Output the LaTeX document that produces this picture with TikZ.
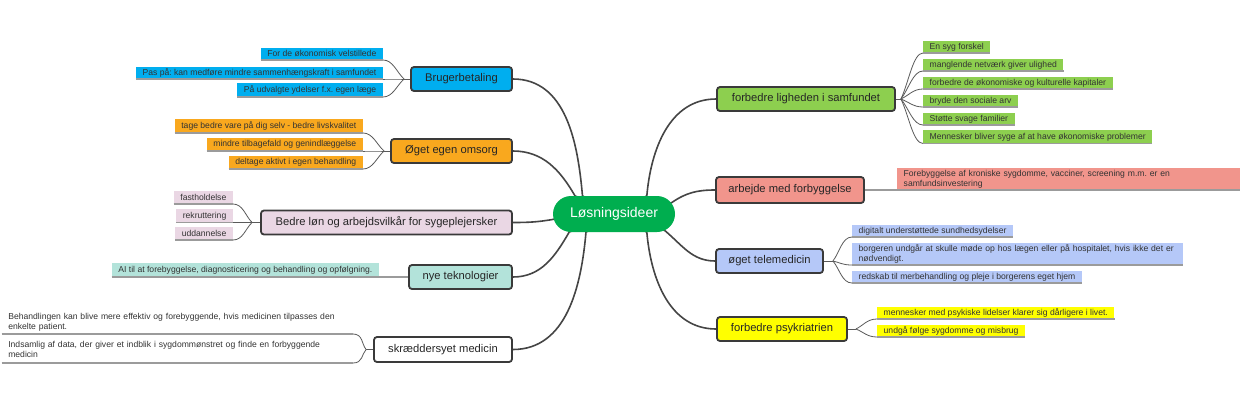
\documentclass[tikz,border=0pt]{standalone}
\usepackage{fontspec}
\setmainfont{Liberation Sans}
\frenchspacing
\usetikzlibrary{backgrounds,calc,shapes.misc}
\definecolor{cgreen}{HTML}{00AE4F}
\definecolor{cblue}{HTML}{00AEEF}
\definecolor{corange}{HTML}{F9A81E}
\definecolor{cpink}{HTML}{EAD7E4}
\definecolor{cteal}{HTML}{B3E3DA}
\definecolor{clime}{HTML}{8DCF4F}
\definecolor{csalmon}{HTML}{F1958C}
\definecolor{cperi}{HTML}{B5C8F8}
\definecolor{cyellow}{HTML}{FFFF00}
\definecolor{mainborder}{HTML}{3A3A3A}
\definecolor{maintext}{HTML}{262626}
\definecolor{leaftext}{HTML}{333333}
\definecolor{ulgray}{HTML}{9B9B9B}
\definecolor{twiggray}{HTML}{5A5A5A}
\definecolor{trunkgray}{HTML}{454545}
\newcommand\twigR[2]{\draw[twig] (#1) .. controls ($(#1)!0.35!(#2)$) and ($(#2)+(-10,0)$) .. (#2);}
\newcommand\twigL[2]{\draw[twig] (#1) .. controls ($(#1)!0.35!(#2)$) and ($(#2)+(10,0)$) .. (#2);}
\begin{document}
\begin{tikzpicture}[x=1pt,y=1pt,
  mainbox/.style={draw=mainborder, line width=1.8pt, rounded corners=3pt, inner sep=0pt, font=\fontsize{11.2}{13}\selectfont, text=maintext},
  leafbox/.style={inner xsep=6.5pt, inner ysep=1.5pt, minimum height=12pt, font=\fontsize{8.6}{10}\selectfont, text=leaftext, align=left},
  uline/.style={draw=ulgray, line width=1.3pt},
  twig/.style={draw=twiggray, line width=0.8pt},
  trunk/.style={draw=trunkgray, line width=1.6pt}]
\useasboundingbox (0,0) rectangle (1240,-400);
% centre
\node[rounded rectangle, fill=cgreen, text=white, minimum width=122pt, minimum height=36pt, inner sep=0pt, font=\fontsize{14}{16}\selectfont] (c) at (614,-214) {Løsningsideer};
% main topics left
\node[mainbox, fill=cblue, minimum width=101pt, minimum height=24pt] (bb) at (461.5,-79) {Brugerbetaling};
\node[mainbox, fill=corange, minimum width=121pt, minimum height=24pt] (oe) at (451.5,-151) {Øget egen omsorg};
\node[mainbox, fill=cpink, minimum width=251pt, minimum height=24pt] (bl) at (386.5,-222.5) {Bedre løn og arbejdsvilkår for sygeplejersker};
\node[mainbox, fill=cteal, minimum width=103pt, minimum height=24pt] (nt) at (460.5,-277) {nye teknologier};
\node[mainbox, fill=white, minimum width=138pt, minimum height=25pt] (sm) at (443,-349.5) {skræddersyet medicin};
% main topics right
\node[mainbox, fill=clime, minimum width=178pt, minimum height=24pt] (fl) at (806,-99) {forbedre ligheden i samfundet};
\node[mainbox, fill=csalmon, minimum width=148pt, minimum height=26pt] (af) at (790,-190) {arbejde med forbyggelse};
\node[mainbox, fill=cperi, minimum width=107pt, minimum height=24pt] (tm) at (769.5,-261) {øget telemedicin};
\node[mainbox, fill=cyellow, minimum width=130pt, minimum height=24pt] (fp) at (782,-329) {forbedre psykriatrien};
% branch points
\coordinate (bbp) at ($(bb.west)+(-6,0)$);
\coordinate (oep) at ($(oe.west)+(-6,0)$);
\coordinate (blp) at ($(bl.west)+(-8,0)$);
\coordinate (smp) at ($(sm.west)+(-7,0)$);
\coordinate (flp) at ($(fl.east)+(5,0)$);
\coordinate (tmp) at ($(tm.east)+(9,0)$);
\coordinate (fpp) at ($(fp.east)+(8,0)$);
% leaves left
\node[leafbox, fill=cblue, anchor=south east] (bb1) at (383,-60) {For de økonomisk velstillede};
\node[leafbox, fill=cblue, anchor=south east] (bb2) at (383,-79) {Pas på: kan medføre mindre sammenhængskraft i samfundet};
\node[leafbox, fill=cblue, anchor=south east, minimum height=14pt] (bb3) at (383,-97) {På udvalgte ydelser f.x. egen læge};
\node[leafbox, fill=corange, anchor=south east, minimum height=14pt] (oe1) at (363,-133) {tage bedre vare på dig selv - bedre livskvalitet};
\node[leafbox, fill=corange, anchor=south east, minimum height=13pt] (oe2) at (363,-151) {mindre tilbagefald og genindlæggelse};
\node[leafbox, fill=corange, anchor=south east, minimum height=13pt] (oe3) at (363,-169) {deltage aktivt i egen behandling};
\node[leafbox, fill=cpink, anchor=south east, minimum height=13pt] (bl1) at (233,-204) {fastholdelse};
\node[leafbox, fill=cpink, anchor=south east, minimum height=13pt] (bl2) at (233,-222.5) {rekruttering};
\node[leafbox, fill=cpink, anchor=south east, minimum height=13pt] (bl3) at (233,-240) {uddannelse};
\node[leafbox, fill=cteal, anchor=south east, minimum height=14pt] (nt1) at (379,-277) {AI til at forebyggelse, diagnosticering og behandling og opfølgning.};
\node[leafbox, anchor=south east, text width=338pt, minimum height=24pt] (sm1) at (353,-334) {Behandlingen kan blive mere effektiv og forebyggende, hvis medicinen tilpasses den\\enkelte patient.};
\node[leafbox, anchor=south east, text width=338pt, minimum height=26pt] (sm2) at (353,-363) {Indsamlig af data, der giver et indblik i sygdommønstret og finde en forbyggende\\medicin};
% leaves right
\node[leafbox, fill=clime, anchor=south west] (fl1) at (923,-53) {En syg forskel};
\node[leafbox, fill=clime, anchor=south west] (fl2) at (923,-71) {manglende netværk giver ulighed};
\node[leafbox, fill=clime, anchor=south west] (fl3) at (923,-89) {forbedre de økonomiske og kulturelle kapitaler};
\node[leafbox, fill=clime, anchor=south west] (fl4) at (923,-107) {bryde den sociale arv};
\node[leafbox, fill=clime, anchor=south west] (fl5) at (923,-125) {Støtte svage familier};
\node[leafbox, fill=clime, anchor=south west, minimum height=13pt] (fl6) at (923,-143.5) {Mennesker bliver syge af at have økonomiske problemer};
\node[leafbox, fill=csalmon, anchor=south west, text width=330pt, minimum height=22pt] (af1) at (897,-190) {Forebyggelse af kroniske sygdomme, vacciner, screening m.m. er en\\samfundsinvestering};
\node[leafbox, fill=cperi, anchor=south west, minimum height=11.5pt] (tm1) at (852,-237) {digitalt understøttede sundhedsydelser};
\node[leafbox, fill=cperi, anchor=south west, text width=318pt, minimum height=22pt] (tm2) at (852,-265) {borgeren undgår at skulle møde op hos lægen eller på hospitalet, hvis ikke det er\\nødvendigt.};
\node[leafbox, fill=cperi, anchor=south west, minimum height=11.5pt] (tm3) at (852,-283) {redskab til merbehandling og pleje i borgerens eget hjem};
\node[leafbox, fill=cyellow, anchor=south west, minimum height=11.5pt] (fp1) at (877,-319) {mennesker med psykiske lidelser klarer sig dårligere i livet.};
\node[leafbox, fill=cyellow, anchor=south west, minimum height=11.5pt] (fp2) at (877,-337) {undgå følge sygdomme og misbrug};
\begin{pgfonlayer}{background}
\fill[white] (0,0) rectangle (1240,-400);
% trunks
\draw[trunk] (c.center) -- (c.150) to[out=95,in=0] (bb.east);
\draw[trunk] (c.center) -- (c.155) to[out=120,in=0] (oe.east);
\draw[trunk] (c.center) -- (c.185) to[out=190,in=0] (bl.east);
\draw[trunk] (c.center) -- (c.202) to[out=240,in=0] (nt.east);
\draw[trunk] (c.center) -- (c.213) to[out=265,in=0] (sm.east);
\draw[trunk] (c.center) -- (c.29) to[out=85,in=180] (fl.west);
\draw[trunk] (c.center) -- (c.11) to[out=35,in=180] (af.west);
\draw[trunk] (c.center) -- (c.-18) to[out=-40,in=180] (tm.west);
\draw[trunk] (c.center) -- (c.-29) to[out=-85,in=180] (fp.west);
% stubs
\draw[twig] (bb.west) -- (bbp);
\draw[twig] (oe.west) -- (oep);
\draw[twig] (bl.west) -- (blp);
\draw[twig] (sm.west) -- (smp);
\draw[twig] (fl.east) -- (flp);
\draw[twig] (tm.east) -- (tmp);
\draw[twig] (fp.east) -- (fpp);
% twigs left
\twigL{bbp}{bb1.south east}
\twigL{bbp}{bb2.south east}
\twigL{bbp}{bb3.south east}
\twigL{oep}{oe1.south east}
\twigL{oep}{oe2.south east}
\twigL{oep}{oe3.south east}
\twigL{blp}{bl1.south east}
\twigL{blp}{bl2.south east}
\twigL{blp}{bl3.south east}
\twigL{smp}{sm1.south east}
\twigL{smp}{sm2.south east}
% twigs right
\twigR{flp}{fl1.south west}
\twigR{flp}{fl2.south west}
\twigR{flp}{fl3.south west}
\twigR{flp}{fl4.south west}
\twigR{flp}{fl5.south west}
\twigR{flp}{fl6.south west}
\twigR{tmp}{tm1.south west}
\twigR{tmp}{tm2.south west}
\twigR{tmp}{tm3.south west}
\twigR{fpp}{fp1.south west}
\twigR{fpp}{fp2.south west}
% straight leaf links
\draw[uline] (nt.west) -- (nt1.south east);
\draw[uline] (af.east) -- (af1.south west);
\end{pgfonlayer}
% underlines
\foreach \l in {bb1,bb2,bb3,oe1,oe2,oe3,bl1,bl2,bl3,nt1,sm1,sm2,fl1,fl2,fl3,fl4,fl5,fl6,af1,tm1,tm2,tm3,fp1,fp2}
  \draw[uline] (\l.south west) -- (\l.south east);
\end{tikzpicture}
\end{document}
